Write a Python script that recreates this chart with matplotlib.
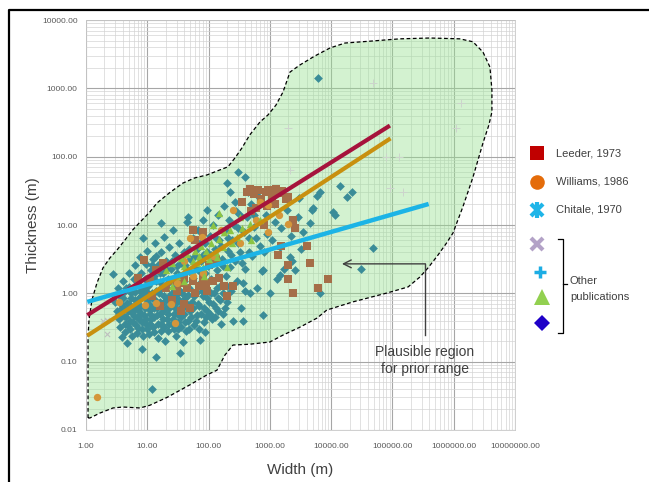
import matplotlib
matplotlib.use("Agg")
import matplotlib.pyplot as plt
from matplotlib.ticker import LogLocator, FixedLocator, FuncFormatter, NullFormatter

plt.rcParams['font.family'] = ['Liberation Sans', 'DejaVu Sans']

# outline of the plausible region (width, thickness), clockwise from bottom left
region_w = [1.08, 1.08, 1.08, 1.12, 1.25, 1.51, 1.89, 2.46, 3.2, 4.3, 5.8, 7.6, 11, 14.4,
            23.5, 38, 60, 94, 153, 207, 270, 350, 470, 690, 930, 1260, 1640, 2130, 3100,
            5400, 9600, 16800, 43000, 132000, 409000, 1.26e6, 2.06e6, 3.0e6, 3.9e6, 4.2e6,
            4.2e6, 3.75e6, 3.0e6, 2.06e6, 1.41e6, 9.7e5, 7.7e5, 5.5e5, 3.8e5, 2.8e5, 1.8e5,
            81000, 22700, 8500, 5900, 3100, 1640, 1000, 470, 250, 185, 137, 94, 50, 21, 11,
            7.6, 4.0, 2.75, 1.69, 1.16]
region_t = [0.015, 0.0275, 0.23, 0.41, 0.80, 1.42, 2.35, 3.3, 4.3, 6.0, 8.5, 11, 15.5, 21,
            30, 41, 49, 54, 64, 71, 96, 134, 208, 322, 407, 570, 885, 1730, 2200,
            2970, 3900, 4600, 4900, 5300, 5450, 5300, 4800, 3400, 2050, 946,
            450, 291, 158, 50, 18.4, 7.6, 5.5, 3.6, 2.35, 1.73, 1.24,
            1.01, 0.75, 0.57, 0.435, 0.32, 0.245, 0.194, 0.18, 0.175, 0.125, 0.075, 0.064,
            0.046, 0.030, 0.023, 0.021, 0.0217, 0.021, 0.0177, 0.015]

# compiled data: (width m, thickness m)
teal_pts = [
    (2.8, 1.9), (3.0, 0.75), (3.2, 0.55), (3.3, 1.2), (3.4, 0.42), (3.6, 0.9), (3.6, 0.32),
    (3.8, 0.62), (3.9, 0.23), (4.0, 1.5), (4.1, 0.47), (4.2, 1.05), (4.3, 0.36), (4.4, 0.27),
    (4.6, 0.19), (4.7, 0.72), (4.8, 0.55), (5.0, 2.0), (5.0, 1.25), (5.2, 0.4), (5.3, 0.3),
    (5.5, 0.85), (5.6, 0.24), (5.8, 0.62), (6.0, 1.6), (6.0, 0.47), (6.3, 2.6), (6.3, 1.05),
    (6.5, 0.34), (6.7, 0.72), (6.9, 0.26), (7.0, 1.35), (7.2, 0.55), (7.4, 0.42), (7.6, 3.4),
    (7.8, 0.9), (8.0, 2.0), (8.1, 0.153), (8.3, 0.3), (8.5, 6.4), (8.5, 1.2), (8.7, 0.65),
    (9.0, 0.48), (9.2, 1.6), (9.5, 2.7), (9.6, 0.36), (9.8, 0.8), (10, 4.2), (10, 1.05),
    (10.5, 0.25), (10.8, 0.58), (11, 1.4), (11.5, 2.2), (11.5, 0.42), (12, 0.04), (12, 0.85),
    (12.5, 3.2), (12.5, 0.32), (13, 1.8), (13, 0.62), (13.5, 5.5), (14, 0.117), (14, 1.1),
    (14.5, 0.48), (15, 2.6), (15, 0.22), (16, 0.75), (16, 1.45), (16.5, 4.0), (17, 10.6),
    (17, 0.36), (18, 2.0), (18, 0.55), (19, 6.7), (19, 1.2), (19.5, 0.2), (20, 3.0), (20, 0.8),
    (21, 0.42), (22, 1.6), (22, 0.28), (23, 4.8), (23, 0.62), (24, 2.3), (25, 1.0), (25, 0.35),
    (26, 8.5), (27, 0.5), (28, 1.35), (28, 3.6), (29, 0.24), (30, 0.75), (31, 2.0), (32, 0.3),
    (33, 5.5), (34, 0.134), (34, 1.1), (35, 0.45), (36, 2.8), (38, 0.194), (38, 0.62),
    (39, 1.5), (40, 4.0), (41, 0.85), (43, 0.28), (44, 2.2), (45, 11), (46, 13), (46, 0.4),
    (48, 1.2), (50, 0.55), (50, 3.2), (53, 0.75), (55, 1.7), (56, 6.5), (58, 0.34), (60, 2.5),
    (62, 1.0), (65, 0.48), (65, 4.5), (68, 8.5), (70, 0.65), (72, 0.21), (72, 1.4), (75, 3.0),
    (78, 2.0), (80, 0.9), (82, 12), (85, 0.38), (87, 0.27), (88, 5.5), (90, 1.2), (93, 16.5),
    (95, 0.55), (98, 2.5), (100, 0.75), (105, 7.0), (108, 3.6), (110, 1.6), (115, 0.42),
    (120, 10), (122, 1.0), (128, 4.5), (130, 0.6), (135, 2.2), (140, 14), (145, 0.85),
    (150, 6.0), (155, 1.3), (160, 0.35), (165, 3.2), (175, 0.5), (180, 19), (185, 8.5),
    (190, 1.8), (200, 41), (200, 0.75), (205, 4.2), (215, 12), (220, 30), (225, 2.4),
    (235, 1.1), (245, 6.0), (255, 0.4), (265, 3.0), (270, 22), (280, 16), (290, 1.5),
    (300, 60), (300, 9.0), (320, 4.0), (340, 0.6), (370, 1.4), (370, 0.39), (390, 50),
    (390, 1.1), (400, 2.3), (420, 13), (450, 6.5), (480, 1.0), (500, 20), (520, 3.5),
    (560, 9.5), (610, 1.2), (650, 27), (700, 5.0), (740, 2.1), (770, 2.2), (780, 0.48),
    (850, 14), (900, 7.5), (1000, 1.0), (1100, 6.0), (1150, 20), (1300, 1.6), (1450, 1.85),
    (1450, 4.8), (1500, 9), (1900, 16.5), (2100, 3.4), (2300, 3.0), (2600, 2.2), (2900, 13),
    (3000, 25), (3500, 8), (4500, 10.6), (4800, 16.5), (5000, 17.6), (5800, 27), (6600, 30),
    (6600, 1.0), (6000, 1400), (10700, 15.5), (11500, 14), (14000, 37), (18000, 26),
    (22000, 30), (31000, 2.3), (48000, 4.6),
    (3.5, 0.5), (3.7, 0.7), (4.0, 0.85), (4.2, 0.6), (4.5, 0.45), (4.5, 1.2), (4.9, 0.33),
    (5.1, 0.7), (5.4, 1.0), (5.6, 0.52), (5.9, 0.38), (6.2, 0.8), (6.4, 0.58), (6.8, 0.45),
    (7.1, 0.31), (7.3, 0.85), (7.5, 1.1), (7.7, 0.65), (8.0, 0.5), (8.2, 0.38), (8.6, 0.24),
    (8.9, 1.0), (9.3, 0.6), (9.5, 0.42), (9.9, 0.3), (10.2, 1.3), (10.5, 0.7), (11, 0.5),
    (11, 0.35), (11.8, 1.0), (12, 0.6), (12.8, 0.45), (13, 0.27), (13.5, 0.8), (14, 1.5),
    (14.5, 0.62), (15, 0.36), (15.5, 1.0), (16, 0.5), (16.5, 0.28), (17, 1.2), (17.5, 0.7),
    (18, 0.42), (19, 0.9), (19, 0.32), (20, 0.6), (21, 1.35), (22, 0.5), (22.5, 0.36),
    (23, 0.9), (24, 0.7), (26, 0.42), (26, 1.2), (27, 0.3), (28, 0.62), (29, 0.95), (30, 0.5),
    (32, 0.38), (33, 0.8), (34, 0.6), (36, 0.32), (37, 1.0), (40, 0.5), (42, 0.38), (44, 0.7),
    (46, 0.95), (48, 0.3), (52, 0.45), (55, 0.62), (58, 0.9), (62, 0.4), (66, 0.7), (70, 0.3),
    (74, 0.5), (78, 1.1), (84, 0.62), (90, 0.45), (96, 0.85), (104, 0.5), (110, 1.0),
    (118, 0.7), (125, 0.45), (135, 1.2), (145, 0.55), (155, 0.8), (170, 1.0), (185, 0.6),
    (200, 1.3), (12, 2.6), (14, 3.5), (16, 2.0), (20, 2.3), (25, 3.0), (30, 2.5), (35, 1.8),
    (38, 3.5), (42, 2.6), (48, 4.5), (52, 2.0), (60, 3.5), (66, 2.2), (72, 5.5), (80, 3.6),
    (88, 2.0), (95, 4.0), (110, 2.8), (130, 6.5), (140, 3.0), (160, 5.0), (175, 2.5),
    (210, 6.5), (230, 3.6), (260, 10), (300, 5.5), (330, 14), (350, 2.8), (380, 8), (440, 30),
    (460, 4), (550, 14), (600, 6.5), (800, 4), (1200, 11), (2200, 7), (3200, 4.5), (1700, 2.3),
]
brown_pts = [
    (350, 22), (420, 30), (480, 34), (560, 28), (650, 32), (720, 24), (850, 30), (950, 33),
    (1100, 27), (1250, 34), (1400, 29), (1600, 31), (1800, 24), (600, 18), (900, 19),
    (1200, 20), (500, 16), (2000, 26), (2600, 9), (2400, 12), (1350, 3.6), (2000, 2.6),
    (2000, 1.6), (4000, 4.9), (4500, 2.8), (8800, 1.6), (6000, 1.2), (2400, 1.0), (1500, 5),
    (800, 10), (7, 1.7), (9, 3.1), (11, 1.6), (14, 2.2), (18, 2.8), (20, 1.2), (25, 1.5),
    (30, 1.1), (34, 1.4), (40, 1.7), (45, 1.2), (55, 1.5), (60, 1.0), (70, 1.3), (80, 1.7),
    (90, 1.4), (95, 1.1), (120, 1.5), (150, 1.7), (180, 1.3), (250, 1.3), (55, 8.5), (60, 6),
    (80, 8), (40, 0.7), (50, 0.6), (35, 0.55), (25, 0.8), (12, 0.9), (16, 0.65), (100, 2.6),
    (130, 3.2), (200, 0.9),
]
orange_pts = [
    (1.5, 0.03), (3.4, 0.75), (9.2, 0.67), (14, 0.72), (24, 0.7), (28, 0.37), (56, 1.8),
    (50, 6.5), (77, 6.7), (40, 3.0), (120, 3.5), (250, 16.5), (930, 19.5), (2000, 10.5),
    (930, 8), (600, 12), (160, 8.5), (320, 5.5), (1400, 14), (700, 22), (80, 2.0), (30, 1.4),
]
green_pts = [
    (20, 2.2), (25, 2.8), (30, 1.8), (35, 3.3), (40, 2.5), (45, 3.8), (50, 2.2), (55, 3.0),
    (60, 4.2), (65, 2.8), (70, 3.5), (75, 5.0), (80, 2.4), (90, 4.2), (100, 3.2), (110, 5.5),
    (120, 10), (130, 4.0), (135, 3.4), (150, 15), (150, 6.2), (170, 4.8), (180, 8), (200, 2.4),
    (220, 8.5), (240, 5.5), (290, 6.7), (320, 13), (350, 9), (470, 10.5), (500, 6), (700, 12),
    (40, 1.5), (85, 1.8), (25, 1.3),
]
gray_x_pts = [(2.2, 0.25), (2.2, 0.41), (1.9, 0.4)]
gray_plus_pts = [(48000, 1200), (1.3e6, 620), (1.1e6, 260), (1.3e5, 100), (1.5e5, 30),
                 (9e4, 35), (2000, 260), (2100, 63), (8e4, 100)]

# empirical relations, drawn as straight lines between end points
leeder_w, leeder_t = [1.05, 91000], [0.48, 285]
williams_w, williams_t = [1.05, 93000], [0.24, 185]
chitale_w, chitale_t = [1.05, 3.9e5], [0.75, 20.3]

x_ticks = [1, 10, 100, 1000, 1e4, 1e5, 1e6, 1e7]
y_ticks = [0.01, 0.1, 1, 10, 100, 1000, 10000]


def unzip(pts):
    return [p[0] for p in pts], [p[1] for p in pts]


fig = plt.figure(figsize=(6.49, 4.82), dpi=100)
ax = fig.add_axes([86 / 649, 1 - 430 / 482, 429 / 649, 410 / 482])
ax.set_xscale('log')
ax.set_yscale('log')
ax.set_xlim(1, 1e7)
ax.set_ylim(0.01, 10000)

ax.xaxis.set_major_locator(FixedLocator(x_ticks))
ax.yaxis.set_major_locator(FixedLocator(y_ticks))
ax.xaxis.set_minor_locator(LogLocator(base=10, subs=range(2, 10), numticks=20))
ax.yaxis.set_minor_locator(LogLocator(base=10, subs=range(2, 10), numticks=20))
fmt = FuncFormatter(lambda v, p: "%.2f" % v)
ax.xaxis.set_major_formatter(fmt)
ax.yaxis.set_major_formatter(fmt)
ax.xaxis.set_minor_formatter(NullFormatter())
ax.yaxis.set_minor_formatter(NullFormatter())
ax.tick_params(which='both', length=0, labelsize=6, labelcolor='#595959')
ax.tick_params(axis='x', pad=9)
ax.tick_params(axis='y', pad=6)

ax.set_axisbelow(True)
ax.grid(which='major', color='#A6A6A6', lw=0.8)
ax.grid(which='minor', color='#D4D4D4', lw=0.5)
for s in ax.spines.values():
    s.set_color('#C8C8C8')
    s.set_linewidth(0.6)

ax.fill(region_w, region_t, facecolor='#96E290', alpha=0.42, edgecolor='none', zorder=1)
ax.plot(region_w + region_w[:1], region_t + region_t[:1], color='black', lw=0.9,
        dashes=(3, 2), zorder=2)

gx, gy = unzip(gray_x_pts)
ax.scatter(gx, gy, marker='x', s=14, color='#BFBFBF', linewidths=0.8, zorder=3)
gx, gy = unzip(gray_plus_pts)
ax.scatter(gx, gy, marker='+', s=30, color='#CCD4CC', linewidths=0.7, zorder=3)

tx, ty = unzip(teal_pts)
ax.scatter(tx, ty, marker='D', s=20, color='#3A8C98', linewidths=0, zorder=4)
bx, by = unzip(brown_pts)
ax.scatter(bx, by, marker='s', s=32, color='#A56E48', linewidths=0, zorder=4)
ox, oy = unzip(orange_pts)
ax.scatter(ox, oy, marker='o', s=28, color='#D4963A', linewidths=0, zorder=4)
lx, ly = unzip(green_pts)
ax.scatter(lx, ly, marker='^', s=28, color='#8CC444', linewidths=0, zorder=4)

ax.plot(williams_w, williams_t, color='#C8900F', lw=3, solid_capstyle='butt', zorder=5)
ax.plot(leeder_w, leeder_t, color='#A6133C', lw=3, solid_capstyle='butt', zorder=5)
ax.plot(chitale_w, chitale_t, color='#1CB4E6', lw=3.2, solid_capstyle='butt', zorder=6)

# annotation arrow and label
ax.plot([3.4e5, 3.4e5], [0.245, 2.7], color='#404040', lw=1, zorder=6)
ax.annotate('', xy=(15000, 2.7), xytext=(3.45e5, 2.7),
            arrowprops=dict(arrowstyle='->', color='#404040', lw=1, mutation_scale=14,
                            shrinkA=0, shrinkB=0), zorder=6)
ax.text(3.4e5, 0.104, "Plausible region\nfor prior range", ha='center', va='center',
        fontsize=10, color='#404040', linespacing=1.35, zorder=7)

ax.set_xlabel("Width (m)", fontsize=11, color='#404040')
ax.set_ylabel("Thickness (m)", fontsize=11, color='#404040')
ax.xaxis.set_label_coords(0.5, -0.08)
ax.yaxis.set_label_coords(-0.108, 0.5)

# legend and frame drawn in pixel coordinates
ov = fig.add_axes([0, 0, 1, 1], facecolor='none')
ov.set_xlim(0, 649)
ov.set_ylim(482, 0)
ov.axis('off')
ov.plot([9, 9, 700], [500, 10, 10], color='black', lw=1.6)

ov.plot(537, 153, marker='s', ms=9.5, color='#C00000', mew=0)
ov.plot(537, 182, marker='o', ms=10.5, color='#E46C0A', mew=0)
ov.plot(537, 210, marker='x', ms=9, color='#1FB5E8', mew=3)
ov.plot(537, 210, marker='|', ms=11, color='#1FB5E8', mew=3)
ov.plot(537, 244, marker='x', ms=9, color='#B3A2C7', mew=3)
ov.plot(540, 272, marker='+', ms=9, color='#1CADE4', mew=2.5)
ov.plot(542, 297, marker='^', ms=11, color='#92D050', mew=0)
ov.plot(542, 323, marker='D', ms=8.5, color='#1F00C8', mew=0)
for ytxt, label in [(153, "Leeder, 1973"), (182, "Williams, 1986"), (210, "Chitale, 1970")]:
    ov.text(556, ytxt, label, fontsize=8, color='#404040', ha='left', va='center')
ov.plot([558, 563, 563, 558], [239, 239, 333, 333], color='black', lw=0.9)
ov.plot([563, 567], [284, 284], color='black', lw=0.9)
ov.text(570, 281, "Other", fontsize=8, color='#404040', ha='left', va='center')
ov.text(570, 297, "publications", fontsize=8, color='#404040', ha='left', va='center')

fig.savefig("out.png", dpi=100)
